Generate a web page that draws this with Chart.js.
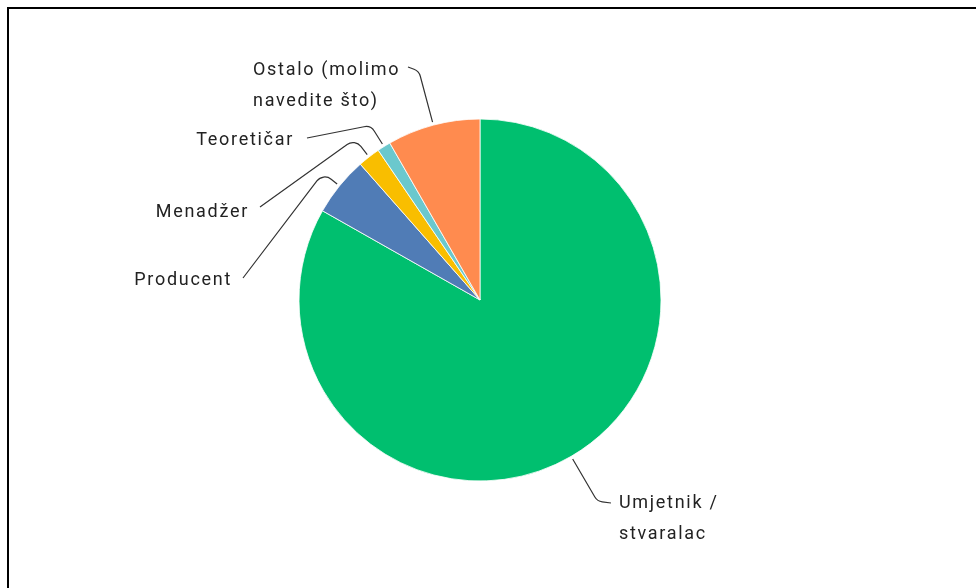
<!DOCTYPE html>
<html>
<head>
<meta charset="utf-8">
<script src="https://cdn.jsdelivr.net/npm/chart.js@4.4.1/dist/chart.umd.min.js"></script>
<style>
  html, body { margin: 0; padding: 0; background: #fff; }
  #wrap { position: relative; width: 976px; height: 588px; overflow: hidden; }
  #frame { position: absolute; left: 7px; top: 7px; width: 1000px; height: 600px;
           border-left: 2px solid #000; border-top: 2px solid #000; }
  canvas { position: absolute; left: 0; top: 0; }
</style>
</head>
<body>
<div id="wrap">
  <div id="frame"></div>
  <canvas id="pieChart" width="976" height="588"></canvas>
</div>
<script>
const categories = [
  ["Umjetnik /", "stvaralac"],
  ["Producent"],
  ["Menadžer"],
  ["Teoretičar"],
  ["Ostalo (molimo", "navedite što)"]
];
const shares = [83.2, 5.3, 2.0, 1.2, 8.3];
const colors = ["#00BF6F", "#507CB6", "#F9BE00", "#6BC8CD", "#FF8B4F"];

// where each callout sits: text anchor, alignment, leader line end and elbow distance
const calloutLayout = [
  { x: 619, y: 503, align: "left",  lineEnd: [611, 503], elbow: 52 },
  { x: 232, y: 280, align: "right", lineEnd: [243, 278], elbow: 21 },
  { x: 249, y: 212, align: "right", lineEnd: [260, 207], elbow: 23 },
  { x: 294, y: 140, align: "right", lineEnd: [307, 138], elbow: 25 },
  { x: 253, y: 70,  align: "left",  lineEnd: [408, 67],  elbow: 56 }
];

const calloutPlugin = {
  id: "callouts",
  afterDatasetsDraw(chart) {
    const ctx = chart.ctx;
    const arcs = chart.getDatasetMeta(0).data;
    ctx.save();
    ctx.font = "18px Roboto";
    ctx.letterSpacing = "1.7px";
    ctx.fillStyle = "#222";
    ctx.strokeStyle = "#333";
    ctx.lineWidth = 1.2;
    ctx.textBaseline = "middle";
    arcs.forEach((arc, i) => {
      const lay = calloutLayout[i];
      const p = arc.getProps(["x", "y", "startAngle", "endAngle", "outerRadius"], true);
      const mid = (p.startAngle + p.endAngle) / 2;
      const r0 = p.outerRadius + 3;
      const r1 = p.outerRadius + lay.elbow;
      const ex = p.x + Math.cos(mid) * r0, ey = p.y + Math.sin(mid) * r0;
      const bx = p.x + Math.cos(mid) * r1, by = p.y + Math.sin(mid) * r1;
      ctx.beginPath();
      ctx.moveTo(ex, ey);
      ctx.arcTo(bx, by, lay.lineEnd[0], lay.lineEnd[1], 10);
      ctx.lineTo(lay.lineEnd[0], lay.lineEnd[1]);
      ctx.stroke();
      ctx.textAlign = lay.align;
      categories[i].forEach((line, j) => {
        ctx.fillText(line, lay.x, lay.y + j * 31);
      });
    });
    ctx.restore();
  }
};

new Chart("pieChart", {
  type: "pie",
  data: {
    labels: categories.map(c => c.join(" ")),
    datasets: [{
      data: shares,
      backgroundColor: colors,
      borderColor: "#ffffff",
      borderWidth: 0.8,
      radius: 181
    }]
  },
  options: {
    responsive: false,
    animation: false,
    layout: { padding: { left: 120, right: 136, top: 119, bottom: 107 } },
    plugins: {
      legend: { display: false },
      tooltip: { enabled: false }
    }
  },
  plugins: [calloutPlugin]
});
</script>
</body>
</html>
